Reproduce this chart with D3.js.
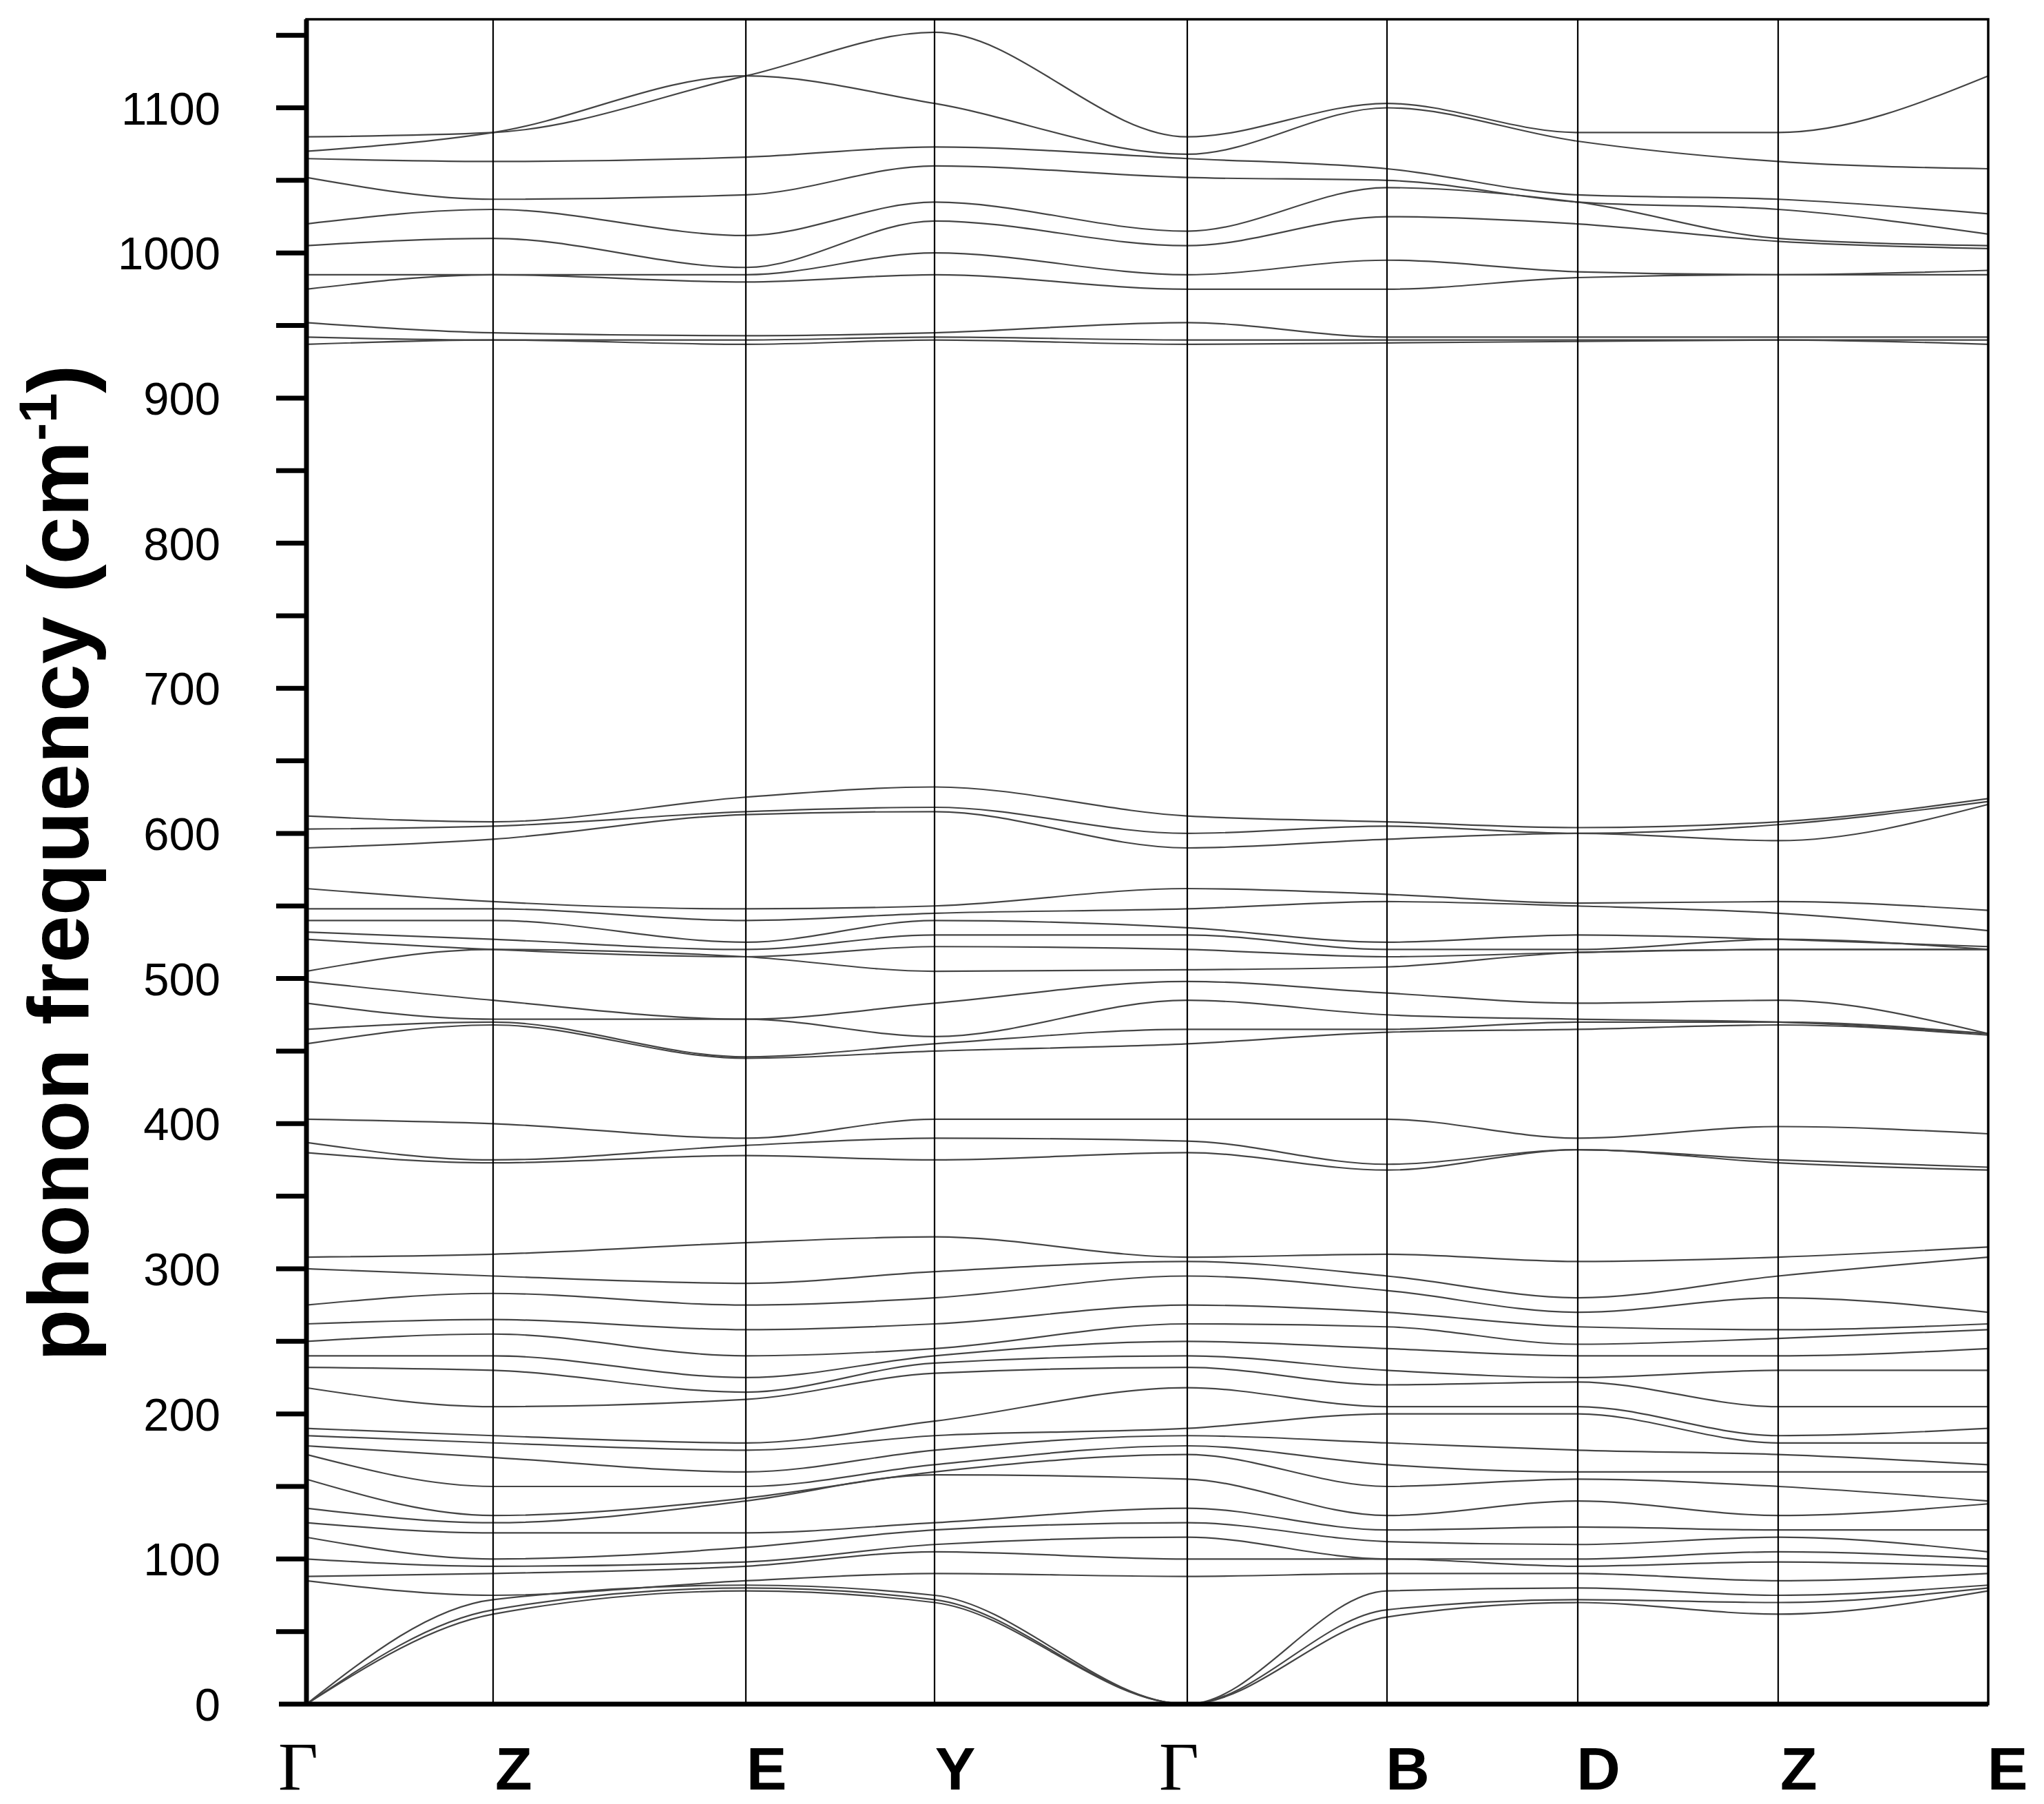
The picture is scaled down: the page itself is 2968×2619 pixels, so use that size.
<!DOCTYPE html>
<html><head><meta charset="utf-8">
<script src="https://cdn.jsdelivr.net/npm/d3@7"></script>
<style>body{margin:0;background:#fff}</style></head>
<body><svg id="c" width="2968" height="2619"></svg>
<script>
const kLabels = ["Γ","Z","E","Y","Γ","B","D","Z","E"];
const kPos = [0,271,638,912,1279,1569,1846,2137,2442];
const yTicks = [0,100,200,300,400,500,600,700,800,900,1000,1100];
// bands given as values at the 9 high-symmetry points
const highBands = [
 [1080,1083,1122,1152,1080,1103,1083,1083,1122],
 [1070,1083,1122,1103,1068,1100,1077,1063,1058],
 [1065,1063,1066,1073,1065,1058,1040,1037,1027],
 [1052,1037,1040,1060,1052,1050,1035,1030,1013],
 [1020,1030,1012,1035,1015,1045,1035,1010,1005],
 [1005,1010,990,1022,1005,1025,1020,1008,1003],
 [985,985,985,1000,985,995,987,985,988],
 [975,985,980,985,975,975,983,985,985],
 [952,945,943,945,952,942,942,942,942],
 [942,940,940,942,940,940,940,940,940],
 [937,940,937,940,937,938,939,940,937]
];
const midBands = [
 [612,608,625,632,612,608,604,608,624],
 [603,605,615,618,600,605,600,606,622],
 [590,596,613,615,590,596,600,595,620],
 [562,553,548,550,562,558,552,553,547],
 [548,548,540,545,548,553,550,545,533],
 [540,540,525,540,535,525,530,527,522],
 [532,527,520,530,530,520,520,527,520],
 [527,520,515,522,520,515,518,520,520],
 [505,520,515,505,506,508,518,520,520],
 [498,485,472,483,498,490,483,485,462],
 [483,472,472,460,485,475,472,470,462],
 [465,470,446,455,465,465,470,470,462],
 [455,468,445,450,455,463,465,468,461],
 [403,400,390,403,403,403,390,398,393],
 [387,375,385,390,388,372,382,375,370],
 [380,373,378,375,380,368,382,373,368]
];
// low-frequency modes listed per high-symmetry point
const lowG1 = [308,300,275,262,250,240,232,218,190,185,178,172,155,135,125,115,100,88,85,0,0,0];
const lowZ1 = [310,295,283,265,255,240,230,205,185,180,170,150,130,125,118,100,95,90,75,72,65,62];
const lowE1 = [318,290,275,258,240,225,215,210,180,175,160,150,142,140,118,108,98,95,85,82,80,78];
const lowY  = [322,298,280,262,245,240,235,228,195,185,175,165,160,158,125,120,110,105,90,75,72,70];
const lowG2 = [308,305,295,275,262,250,240,232,218,190,185,178,172,155,135,125,115,100,88,0,0,0];
const lowB  = [310,295,285,270,260,245,230,220,205,200,180,165,150,130,120,112,100,100,90,78,65,60];
const lowD  = [305,280,270,260,248,240,225,222,205,200,175,160,155,140,122,110,100,95,90,80,72,70];
const lowZ2 = [308,295,280,258,252,240,230,205,185,180,172,160,150,130,120,115,105,98,85,75,70,62];
const lowE2 = [315,308,270,262,258,245,230,205,190,180,165,160,140,138,120,105,100,95,90,82,80,78];

const lowPts=[lowG1,lowZ1,lowE1,lowY,lowG2,lowB,lowD,lowZ2,lowE2];
const lowBands=lowG1.map((_,i)=>lowPts.map(p=>p[i]));
const bands=highBands.concat(midBands,lowBands);

const svg=d3.select("#c");
const L=445,R=2887,T=28,B=2474;
const x=d3.scaleLinear().domain([0,kPos[8]]).range([L,R]);
const y=d3.scaleLinear().domain([0,1161]).range([B,T]);

const line=d3.line().x((d,i)=>x(kPos[i])).y(d=>y(d)).curve(d3.curveMonotoneX);
svg.append("g").selectAll("path").data(bands).join("path")
 .attr("d",line).attr("fill","none").attr("stroke","#444").attr("stroke-width",2.2);

svg.append("g").selectAll("line").data(kPos.slice(1,8)).join("line")
 .attr("x1",d=>x(d)).attr("x2",d=>x(d)).attr("y1",T).attr("y2",B)
 .attr("stroke","#000").attr("stroke-width",2.2);

svg.append("rect").attr("x",L).attr("y",T).attr("width",R-L).attr("height",B-T)
 .attr("fill","none").attr("stroke","#000").attr("stroke-width",3.5);
svg.append("line").attr("x1",L).attr("x2",L).attr("y1",T).attr("y2",B).attr("stroke","#000").attr("stroke-width",7);
svg.append("line").attr("x1",L-40).attr("x2",R).attr("y1",B).attr("y2",B).attr("stroke","#000").attr("stroke-width",7);

const g=svg.append("g");
g.selectAll("line").data(d3.range(50,1151,50)).join("line")
 .attr("x1",L-44).attr("x2",L).attr("y1",d=>y(d)).attr("y2",d=>y(d))
 .attr("stroke","#000").attr("stroke-width",7);
g.selectAll("text").data(yTicks).join("text")
 .attr("x",L-125).attr("y",d=>y(d)+24).attr("text-anchor","end")
 .attr("font-family","Liberation Sans, Arial, sans-serif").attr("font-size",67).text(d=>d);

svg.append("g").selectAll("text").data(kLabels).join("text")
 .attr("x",(d,i)=>x(kPos[i])+(d==="Γ"?-12:(i===8?28:30))).attr("y",2598)
 .attr("text-anchor","middle")
 .attr("font-family",d=>d==="Γ"?"Liberation Serif, Times New Roman, serif":"Liberation Sans, Arial, sans-serif")
 .attr("font-weight",d=>d==="Γ"?"normal":"bold").attr("font-size",d=>d==="Γ"?100:88).text(d=>d);

const yl=svg.append("text").attr("transform","translate(128,1253) rotate(-90)")
 .attr("text-anchor","middle").attr("font-family","Liberation Sans, Arial, sans-serif")
 .attr("font-weight","bold").attr("font-size",124);
yl.append("tspan").text("phonon frequency (cm");
yl.append("tspan").attr("dy",-46).attr("font-size",78).text("-1");
yl.append("tspan").attr("dy",46).text(")");
</script></body></html>
